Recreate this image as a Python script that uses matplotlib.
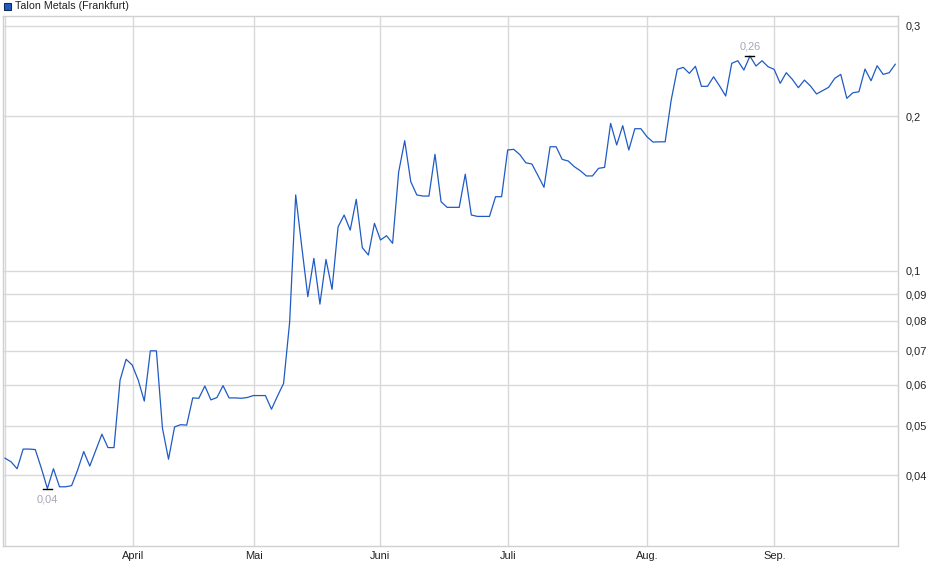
import numpy as np
import matplotlib
matplotlib.use("Agg")
import matplotlib.pyplot as plt
from matplotlib.patches import Rectangle
from matplotlib.ticker import FixedLocator, NullLocator

plt.rcParams['font.family'] = ['Liberation Sans', 'DejaVu Sans']

series_name = "Talon Metals (Frankfurt)"

prices = [
    0.0432, 0.0425, 0.0412, 0.0450, 0.0450, 0.0449, 0.0413, 0.0377, 0.0412, 0.0380,
    0.0380, 0.0382, 0.0410, 0.0445, 0.0417, 0.0448, 0.0481, 0.0453, 0.0453, 0.0613,
    0.0673, 0.0656, 0.0613, 0.0558, 0.0699, 0.0699, 0.0494, 0.0430, 0.0497, 0.0502,
    0.0501, 0.0566, 0.0565, 0.0597, 0.0561, 0.0567, 0.0598, 0.0566, 0.0566, 0.0565,
    0.0567, 0.0572, 0.0572, 0.0572, 0.0538, 0.0571, 0.0604, 0.0795, 0.1406, 0.1115,
    0.0891, 0.1058, 0.0862, 0.1053, 0.0921, 0.1219, 0.1285, 0.1201, 0.1379, 0.1110,
    0.1074, 0.1238, 0.1149, 0.1171, 0.1132, 0.1558, 0.1793, 0.1492, 0.1406, 0.1399,
    0.1399, 0.1687, 0.1364, 0.1330, 0.1330, 0.1330, 0.1543, 0.1285, 0.1277, 0.1277,
    0.1277, 0.1395, 0.1395, 0.1720, 0.1725, 0.1685, 0.1624, 0.1615, 0.1534, 0.1455,
    0.1745, 0.1745, 0.1649, 0.1637, 0.1596, 0.1567, 0.1531, 0.1531, 0.1584, 0.1591,
    0.1938, 0.1759, 0.1918, 0.1720, 0.1892, 0.1892, 0.1825, 0.1782, 0.1784, 0.1784,
    0.2151, 0.2469, 0.2491, 0.2425, 0.2503, 0.2288, 0.2288, 0.2388, 0.2291, 0.2191,
    0.2537, 0.2566, 0.2461, 0.2620, 0.2506, 0.2566, 0.2498, 0.2469, 0.2319, 0.2432,
    0.2361, 0.2274, 0.2353, 0.2291, 0.2211, 0.2244, 0.2278, 0.2371, 0.2414, 0.2168,
    0.2223, 0.2233, 0.2472, 0.2346, 0.2509, 0.2414, 0.2432, 0.2526,
]

month_labels = ["April", "Mai", "Juni", "Juli", "Aug.", "Sep."]
month_positions = [21.09, 41.07, 61.97, 83.11, 106.06, 127.03]

ytick_values = [0.04, 0.05, 0.06, 0.07, 0.08, 0.09, 0.1, 0.2, 0.3]
ytick_labels = ["0,04", "0,05", "0,06", "0,07", "0,08", "0,09", "0,1", "0,2", "0,3"]

W, H = 940, 579
fig = plt.figure(figsize=(W / 100, H / 100), dpi=100)
fig.patch.set_facecolor("white")

left_px, right_px, top_px, bottom_px = 3, 898.3, 16, 545.7
ax = fig.add_axes([left_px / W, 1 - bottom_px / H,
                   (right_px - left_px) / W, (bottom_px - top_px) / H])

x = np.arange(len(prices))
line_color = "#1f5bc4"
grid_color = "#d9d9d9"

ax.set_yscale("log")
ax.set_ylim(0.02918, 0.3136)
ax.set_xlim(-0.33, 147.5)

# grid
for v in ytick_values:
    ax.axhline(v, color=grid_color, lw=1.0, zorder=1)
for p in month_positions:
    ax.axvline(p, color=grid_color, lw=1.0, zorder=1)
ax.axvline(0, color=grid_color, lw=1.0, zorder=1)

ax.plot(x, prices, color=line_color, lw=0.9, zorder=3)

# min / max markers
arr = np.array(prices)
imin, imax = int(arr.argmin()), int(arr.argmax())
ann_color = "#a3a8b3"
for idx, dy, va in [(imin, -4.5, "top"), (imax, 3, "bottom")]:
    ax.plot([idx - 0.75, idx + 0.75], [arr[idx], arr[idx]], color="black", lw=1.0, zorder=4)
    ax.annotate(f"{arr[idx]:.2f}".replace(".", ","), (idx, arr[idx]),
                xytext=(0, dy), textcoords="offset points", ha="center", va=va,
                fontsize=7.9, color=ann_color)

# axes styling
for s in ax.spines.values():
    s.set_color("#d0d0d0")
    s.set_linewidth(1.0)

ax.yaxis.tick_right()
ax.yaxis.set_major_locator(FixedLocator(ytick_values))
ax.yaxis.set_minor_locator(NullLocator())
ax.set_yticklabels(ytick_labels)
ax.tick_params(axis="y", which="both", length=0, pad=5, labelsize=7.9, labelcolor="#222222")

ax.xaxis.set_major_locator(FixedLocator(month_positions))
ax.xaxis.set_minor_locator(NullLocator())
ax.set_xticklabels(month_labels)
ax.tick_params(axis="x", length=0, pad=4, labelsize=7.9, labelcolor="#222222")

# legend
fig.patches.append(Rectangle((4 / W, 1 - 9.5 / H), 6.5 / W, 6.5 / H,
                             transform=fig.transFigure, facecolor=line_color,
                             edgecolor="#1a2a50", lw=0.8))
fig.text(15 / W, 1 - 6.3 / H, series_name, fontsize=7.7, color="#222222",
         ha="left", va="center")

fig.savefig("out.png", dpi=100, facecolor="white")
